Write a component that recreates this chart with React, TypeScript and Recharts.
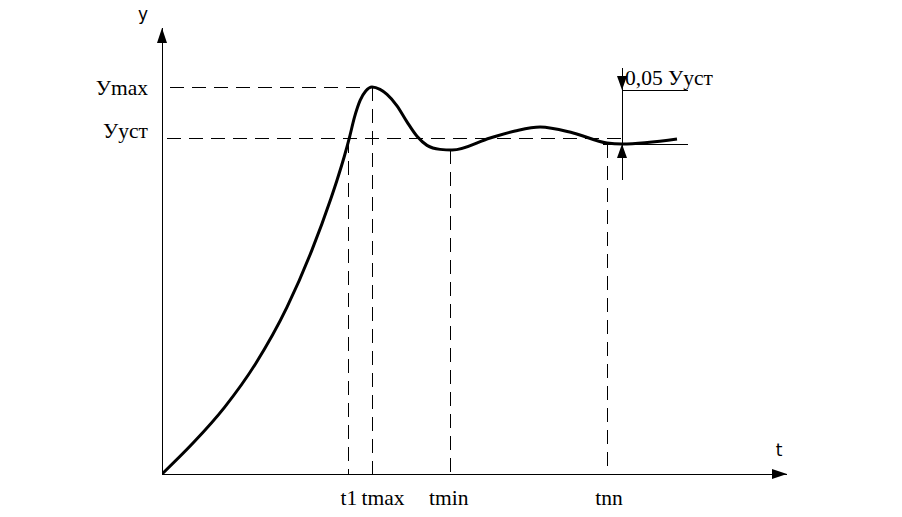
import React from 'react';
import { ComposedChart, Line, XAxis, YAxis, ReferenceLine, ReferenceDot } from 'recharts';

// Step response curve (t in arbitrary units, y relative to Ууст = 1)
const tValues = [0, 0.5, 1.0, 1.5, 2.0, 2.4, 2.7, 2.8, 2.92, 3.0, 3.08, 3.17, 3.26, 3.36, 3.488, 3.6, 3.76, 3.92, 4.08, 4.24, 4.448, 4.64, 5.25, 5.65, 6.05, 6.58, 7.12, 7.36, 8.24];
const yValues = [0, 0.093, 0.199, 0.33, 0.498, 0.669, 0.821, 0.877, 0.95, 1.005, 1.065, 1.115, 1.143, 1.155, 1.148, 1.133, 1.099, 1.051, 1.008, 0.981, 0.969, 0.967, 1.003, 1.024, 1.036, 1.018, 0.988, 0.985, 1.0];

// Characteristic times and levels
const xTickValues = [2.99, 3.36, 4.62, 7.12];
const xTickLabels = ['t1', 'tmax', 'tmin', 'tnn'];
const xTickStartY = [1.0, 1.155, 0.967, 0.985];
const yTickValues = [1.155, 1.0];
const yTickLabels = ['Уmax', 'Ууст'];
const yTickEndT = [3.36, 7.36];
const yTickStartT = [0.13, 0.08];

// Tolerance annotation
const bandT = 7.36;
const bandTop = 1.146;
const bandBottom = 0.985;
const bandLineStartT = 7.06;
const bandLineEndT = 8.42;
const bandLabel = '0,05 Ууст';

// Axes
const X_END = 10;
const Y_TOP = 1.3313;
const axisNameX = 't';
const axisNameY = 'y';

const data = tValues.map((t, i) => ({ t, y: yValues[i] }));

const serif = '"Liberation Serif", "Times New Roman", serif';
const sans = '"DejaVu Sans", sans-serif';
const DASH = '14 8';

const textShape = (label: string, dx: number, dy: number, anchor: string, font: string, size: number) =>
  (p: any) => (
    <text x={p.cx + dx} y={p.cy + dy} textAnchor={anchor} fontFamily={font} fontSize={size} fill="#000">
      {label}
    </text>
  );

const xTickDx = [0, 11, -2, 2];
const yTickDy = [8, -1];

const crisp = { shapeRendering: 'crispEdges' } as any;

export default function App() {
  return (
    <div style={{ position: 'absolute', left: 0, top: 0, width: 902, height: 517, background: '#fff' }}>
      <ComposedChart
        width={902}
        height={517}
        data={data}
        margin={{ top: 28, right: 115, bottom: 13, left: 102 }}
      >
        <XAxis
          dataKey="t"
          type="number"
          domain={[0, X_END]}
          allowDataOverflow
          height={30}
          tick={false}
          tickLine={false}
          axisLine={{ stroke: '#000', strokeWidth: 1, ...crisp }}
        />
        <YAxis
          type="number"
          domain={[0, Y_TOP]}
          allowDataOverflow
          width={60}
          tick={false}
          tickLine={false}
          axisLine={{ stroke: '#000', strokeWidth: 1, ...crisp }}
        />

        {/* horizontal dashed level lines */}
        {yTickValues.map((v, i) => (
          <ReferenceLine
            key={'h' + i}
            segment={[{ x: yTickStartT[i], y: v }, { x: yTickEndT[i], y: v }]}
            stroke="#000"
            strokeWidth={1}
            strokeDasharray={DASH}
            ifOverflow="visible"
            {...crisp}
          />
        ))}
        {/* vertical dashed time lines */}
        {xTickValues.map((v, i) => (
          <ReferenceLine
            key={'v' + i}
            segment={[{ x: v, y: xTickStartY[i] }, { x: v, y: 0 }]}
            stroke="#000"
            strokeWidth={1}
            strokeDasharray={DASH}
            ifOverflow="visible"
            {...crisp}
          />
        ))}

        {/* tolerance annotation */}
        <ReferenceLine segment={[{ x: bandT, y: 1.212 }, { x: bandT, y: 0.878 }]} stroke="#000" strokeWidth={1} ifOverflow="visible" {...crisp} />
        <ReferenceLine segment={[{ x: bandT, y: bandTop }, { x: bandLineEndT, y: bandTop }]} stroke="#000" strokeWidth={1} ifOverflow="visible" {...crisp} />
        <ReferenceLine segment={[{ x: bandLineStartT, y: bandBottom }, { x: bandLineEndT, y: bandBottom }]} stroke="#000" strokeWidth={1} ifOverflow="visible" {...crisp} />

        <Line
          dataKey="y"
          type="monotone"
          stroke="#000"
          strokeWidth={3}
          dot={false}
          activeDot={false}
          isAnimationActive={false}
        />

        {/* arrows */}
        <ReferenceDot x={0} y={Y_TOP} r={1} ifOverflow="visible"
          shape={(p: any) => <path d={`M${p.cx},${p.cy} L${p.cx - 5},${p.cy + 15} L${p.cx + 5},${p.cy + 15} Z`} fill="#000" />} />
        <ReferenceDot x={X_END} y={0} r={1} ifOverflow="visible"
          shape={(p: any) => <path d={`M${p.cx},${p.cy} L${p.cx - 15},${p.cy - 5} L${p.cx - 15},${p.cy + 5} Z`} fill="#000" />} />
        <ReferenceDot x={bandT} y={bandTop} r={1} ifOverflow="visible"
          shape={(p: any) => <path d={`M${p.cx},${p.cy} L${p.cx - 5},${p.cy - 14} L${p.cx + 5},${p.cy - 14} Z`} fill="#000" />} />
        <ReferenceDot x={bandT} y={bandBottom} r={1} ifOverflow="visible"
          shape={(p: any) => <path d={`M${p.cx},${p.cy} L${p.cx - 5},${p.cy + 14} L${p.cx + 5},${p.cy + 14} Z`} fill="#000" />} />

        {/* axis names */}
        <ReferenceDot x={0} y={Y_TOP} r={1} ifOverflow="visible" shape={textShape(axisNameY, -19, -8, 'middle', sans, 17)} />
        <ReferenceDot x={X_END} y={0} r={1} ifOverflow="visible" shape={textShape(axisNameX, -8, -18, 'middle', sans, 17)} />

        {/* tick labels */}
        {xTickValues.map((v, i) => (
          <ReferenceDot key={'xl' + i} x={v} y={0} r={1} ifOverflow="visible"
            shape={textShape(xTickLabels[i], xTickDx[i], 31, 'middle', serif, 21.5)} />
        ))}
        {yTickValues.map((v, i) => (
          <ReferenceDot key={'yl' + i} x={0} y={v} r={1} ifOverflow="visible"
            shape={textShape(yTickLabels[i], -14, yTickDy[i], 'end', serif, 21.5)} />
        ))}
        <ReferenceDot x={bandT} y={bandTop} r={1} ifOverflow="visible"
          shape={textShape(bandLabel, 3, -5, 'start', serif, 21.5)} />
      </ComposedChart>
    </div>
  );
}
